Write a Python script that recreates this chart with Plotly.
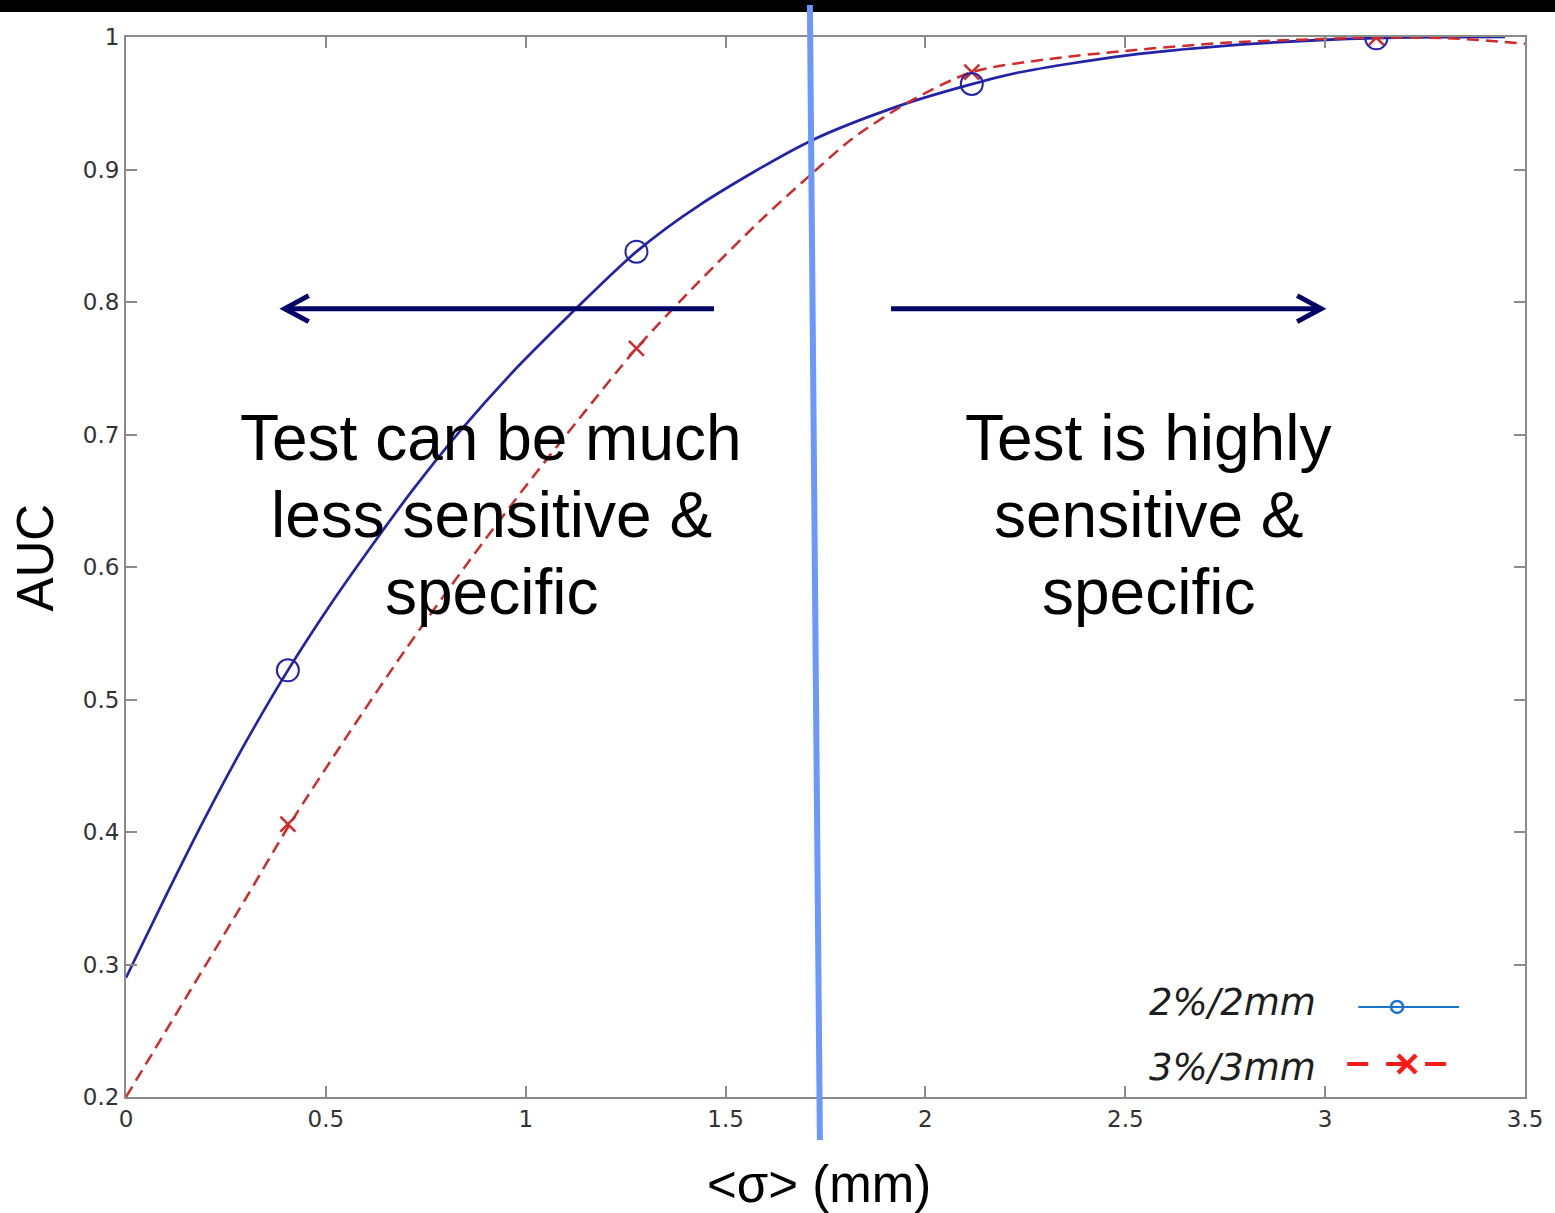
import plotly.graph_objects as go

# AUC as a function of the mean positional error <sigma>, sampled along each curve
sigma_2mm = [0.0, 0.1, 0.2, 0.3, 0.405, 0.51, 0.61, 0.717, 0.834, 0.967, 1.109,
             1.277, 1.434, 1.709, 1.934, 2.116, 2.233, 2.5, 2.825, 3.128, 3.45]
auc_2mm = [0.290, 0.352, 0.412, 0.468, 0.522, 0.571, 0.614, 0.658, 0.702, 0.747, 0.790,
           0.838, 0.873, 0.921, 0.948, 0.9644, 0.9732, 0.986, 0.995, 0.9992, 1.0]

sigma_3mm = [0.0, 0.15, 0.3, 0.41, 0.55, 0.7, 0.85, 1.0, 1.134, 1.277, 1.434, 1.591,
             1.709, 1.816, 1.959, 2.116, 2.3, 2.5, 2.76, 3.128, 3.3, 3.5]
auc_3mm = [0.2, 0.275, 0.350, 0.406, 0.471, 0.538, 0.601, 0.661, 0.712, 0.765, 0.8155, 0.8626,
           0.8950, 0.923, 0.951, 0.9735, 0.983, 0.9895, 0.9958, 0.9995, 0.9992, 0.995]

# marked evaluation points
marker_sigma = [0.405, 1.277, 2.116, 3.128]
marker_auc_2mm = [0.522, 0.838, 0.9645, 0.999]
marker_auc_3mm = [0.406, 0.765, 0.9735, 0.9995]

series_names = ["2%/2mm", "3%/3mm"]

x_tick_vals = [0, 0.5, 1, 1.5, 2, 2.5, 3, 3.5]
x_tick_text = ["0", "0.5", "1", "1.5", "2", "2.5", "3", "3.5"]
y_tick_vals = [0.2, 0.3, 0.4, 0.5, 0.6, 0.7, 0.8, 0.9, 1.0]
y_tick_text = ["0.2", "0.3", "0.4", "0.5", "0.6", "0.7", "0.8", "0.9", "1"]

# threshold separating the two regimes (slightly slanted divider)
threshold_top = 1.711
threshold_bottom = 1.736

left_lines = ["Test can be much", "less sensitive &amp;", "specific"]
right_lines = ["Test is highly", "sensitive &amp;", "specific"]

BLUE = "#2323a8"
RED = "#d02a2a"
NAVY = "#000066"
FRAME = "#8a8a8a"

fig = go.Figure()

fig.add_trace(go.Scatter(x=sigma_2mm, y=auc_2mm, mode="lines",
                         line=dict(color=BLUE, width=2.7, shape="spline", smoothing=0.8),
                         showlegend=False, hoverinfo="skip"))
fig.add_trace(go.Scatter(x=sigma_3mm, y=auc_3mm, mode="lines",
                         line=dict(color=RED, width=2.5, dash="12px,7px",
                                   shape="spline", smoothing=0.8),
                         showlegend=False, hoverinfo="skip"))
fig.add_trace(go.Scatter(x=marker_sigma, y=marker_auc_3mm, mode="markers",
                         marker=dict(symbol="x-thin", size=15, color=RED,
                                     line=dict(color=RED, width=2.5)),
                         name=series_names[1], showlegend=False))
fig.add_trace(go.Scatter(x=marker_sigma, y=marker_auc_2mm, mode="markers",
                         marker=dict(symbol="circle-open", size=22, color=BLUE,
                                     line=dict(color=BLUE, width=2)),
                         name=series_names[0], showlegend=False))

# hand-drawn legend in the lower right corner: label on the left, sample on the right
legend_rows = [
    dict(y=0.268, text_y=0.271, x0=3.083, x1=3.335, xm=3.18),
    dict(y=0.2249, text_y=0.2219, x0=3.055, x1=3.303, xm=3.205),
]
fig.add_trace(go.Scatter(x=[legend_rows[0]["x0"], legend_rows[0]["x1"]],
                         y=[legend_rows[0]["y"]] * 2, mode="lines",
                         line=dict(color="#1874cd", width=2),
                         showlegend=False, hoverinfo="skip"))
fig.add_trace(go.Scatter(x=[legend_rows[0]["xm"]], y=[legend_rows[0]["y"]], mode="markers",
                         marker=dict(symbol="circle-open", size=12, color="#1874cd",
                                     line=dict(color="#1874cd", width=2.5)),
                         showlegend=False, hoverinfo="skip"))
fig.add_trace(go.Scatter(x=[legend_rows[1]["x0"], legend_rows[1]["x1"]],
                         y=[legend_rows[1]["y"]] * 2, mode="lines",
                         line=dict(color="#ff1a1a", width=4, dash="21px,18px"),
                         showlegend=False, hoverinfo="skip"))
fig.add_trace(go.Scatter(x=[legend_rows[1]["xm"]], y=[legend_rows[1]["y"]], mode="markers",
                         marker=dict(symbol="x-thin", size=18, color="#ff1a1a",
                                     line=dict(color="#ff1a1a", width=4.5)),
                         showlegend=False, hoverinfo="skip"))

annotations = []
for row, label in zip(legend_rows, series_names):
    annotations.append(dict(x=2.983, y=row["text_y"], xref="x", yref="y", text=label,
                            showarrow=False, xanchor="right", yanchor="middle",
                            font=dict(family="DejaVu Sans", size=37, color="#1e1e1e",
                                      style="italic")))

# each text line placed on its own so the line pitch stays tight
big_font = dict(family="Liberation Sans, Arial", size=64, color="black")
line_centers = [0.6975, 0.6394, 0.5813]
for lines, xc in ((left_lines, 0.914), (right_lines, 2.558)):
    for text, yc in zip(lines, line_centers):
        annotations.append(dict(x=xc, y=yc, xref="x", yref="y", text=text,
                                showarrow=False, xanchor="center", yanchor="middle",
                                font=big_font))

axis_font = dict(family="Liberation Sans, Arial", size=51, color="black")
annotations.append(dict(x=-0.065, y=0.509, xref="paper", yref="paper", text="AUC",
                        textangle=-90, showarrow=False, xanchor="center",
                        yanchor="middle", font=axis_font))
annotations.append(dict(x=0.495, y=-0.083, xref="paper", yref="paper",
                        text="&lt;σ&gt; (mm)", showarrow=False, xanchor="center",
                        yanchor="middle", font=axis_font))

# direction arrows with open chevron heads
arrow_y = 0.795
head_dx = 0.06
head_dy = 0.0098
shapes = [
    # dark banner across the top edge
    dict(type="rect", xref="paper", yref="paper", x0=-0.2, x1=1.2, y0=1.0236, y1=1.2,
         fillcolor="black", line=dict(width=0), layer="above"),
    # regime divider
    dict(type="line", xref="x", yref="paper", x0=threshold_top, y0=1.0302,
         x1=threshold_bottom, y1=-0.0406, line=dict(color="#6a98ff", width=6),
         layer="above"),
    dict(type="line", xref="x", yref="y", x0=1.471, x1=0.397, y0=arrow_y, y1=arrow_y,
         line=dict(color=NAVY, width=5)),
    dict(type="path", xref="x", yref="y",
         path=f"M {0.397 + head_dx},{arrow_y + head_dy} L 0.397,{arrow_y} "
              f"L {0.397 + head_dx},{arrow_y - head_dy}",
         line=dict(color=NAVY, width=5)),
    dict(type="line", xref="x", yref="y", x0=1.914, x1=2.99, y0=arrow_y, y1=arrow_y,
         line=dict(color=NAVY, width=5)),
    dict(type="path", xref="x", yref="y",
         path=f"M {2.99 - head_dx},{arrow_y + head_dy} L 2.99,{arrow_y} "
              f"L {2.99 - head_dx},{arrow_y - head_dy}",
         line=dict(color=NAVY, width=5)),
]

tick_font = dict(family="DejaVu Sans", size=23, color="#333333")
fig.update_layout(
    width=1555, height=1213,
    margin=dict(l=126, r=28, t=37, b=116),
    paper_bgcolor="white", plot_bgcolor="white",
    showlegend=False,
    annotations=annotations,
    shapes=shapes,
    xaxis=dict(range=[0, 3.5], tickvals=x_tick_vals, ticktext=x_tick_text,
               ticks="inside", ticklen=11, tickwidth=2, tickcolor=FRAME,
               showline=True, linecolor=FRAME, linewidth=2, mirror="ticks",
               showgrid=False, zeroline=False, tickfont=tick_font),
    yaxis=dict(range=[0.2, 1.0], tickvals=y_tick_vals, ticktext=y_tick_text,
               ticks="inside", ticklen=11, tickwidth=2, tickcolor=FRAME,
               showline=True, linecolor=FRAME, linewidth=2, mirror="ticks",
               showgrid=False, zeroline=False, tickfont=tick_font),
)

fig.write_html("out.html")
